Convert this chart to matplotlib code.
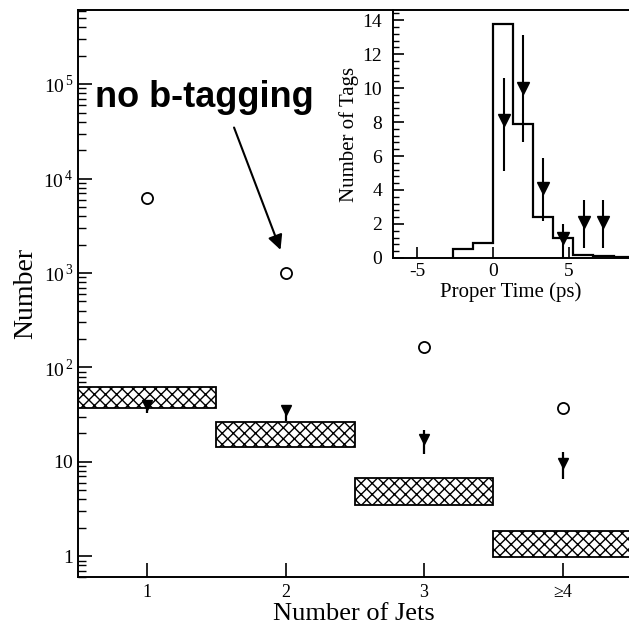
import numpy as np
import matplotlib
matplotlib.use('Agg')
import matplotlib.pyplot as plt
from matplotlib.ticker import FixedLocator, LogLocator, MultipleLocator, NullFormatter

plt.rcParams['font.family'] = ['Liberation Serif', 'DejaVu Serif']
plt.rcParams['mathtext.fontset'] = 'custom'
plt.rcParams['mathtext.rm'] = 'Liberation Serif'
plt.rcParams['axes.unicode_minus'] = False
plt.rcParams['hatch.linewidth'] = 1.0

# main panel: number of events vs number of jets
jets = [1, 2, 3, 4]
jet_labels = ['1', '2', '3', '≥4']
no_tag = [6300, 1000, 163, 37]
tagged = [40, 35, 17.4, 9.8]
tagged_lo = [33, 27, 12, 6.6]
tagged_hi = [44, 40, 21.5, 12.8]
bkg_lo = [37.4, 14.4, 3.5, 0.98]
bkg_hi = [62, 26.6, 6.8, 1.84]

# inset: proper time distribution
t_edges = [-2.65, -1.33, 0, 1.33, 2.65, 4.0, 5.3, 6.65, 8.0, 9.3]
t_counts = [0.5, 0.9, 13.8, 7.9, 2.4, 1.2, 0.2, 0.12, 0.05]
t_pts = [0.73, 2.0, 3.3, 4.65, 6.0, 7.3]
tags = [8.1, 10.0, 4.1, 1.2, 2.1, 2.1]
tags_lo = [5.1, 6.8, 2.2, 0.0, 0.6, 0.6]
tags_hi = [10.6, 13.1, 5.9, 2.0, 3.4, 3.4]

fig = plt.figure(figsize=(6.29, 6.26), dpi=100)
ax = fig.add_axes([0.124, 0.078, 0.876, 0.906])

# hatched background boxes
ax.bar(jets, np.array(bkg_hi) - np.array(bkg_lo), bottom=bkg_lo, width=1.0,
       color='white', edgecolor='black', hatch='xxx', linewidth=1.3, zorder=2)

ax.plot(jets, no_tag, 'o', mfc='white', mec='black', ms=8, mew=1.3, zorder=3)
yerr = [np.array(tagged) - np.array(tagged_lo), np.array(tagged_hi) - np.array(tagged)]
ax.errorbar(jets, tagged, yerr=yerr, fmt='v', color='black', ms=7.5,
            elinewidth=1.6, capsize=0, zorder=4)

ax.set_yscale('log')
ax.set_ylim(0.6, 6.1e5)
ax.set_xlim(0.5, 4.48)
ax.set_xticks(jets)
ax.set_xticklabels(jet_labels, fontsize=13)
ytick_vals = [1, 10, 1e2, 1e3, 1e4, 1e5]
ytick_labels = [r'$\mathrm{1}\ \,$', r'$\mathrm{10}\ \,$',
                r'$\mathrm{10}^{\,2}$', r'$\mathrm{10}^{\,3}$',
                r'$\mathrm{10}^{\,4}$', r'$\mathrm{10}^{\,5}$']
ax.yaxis.set_major_locator(FixedLocator(ytick_vals))
ax.set_yticklabels(ytick_labels, fontsize=14)
ax.yaxis.set_minor_locator(LogLocator(base=10, subs=np.arange(2, 10), numticks=20))
ax.yaxis.set_minor_formatter(NullFormatter())
ax.tick_params(which='major', direction='in', length=10, width=1.2, pad=3)
ax.tick_params(which='minor', direction='in', length=6, width=1.0)
ax.tick_params(axis='x', pad=5)
ax.spines['right'].set_visible(False)
for s in ['left', 'bottom', 'top']:
    ax.spines[s].set_linewidth(1.4)
ax.set_xlabel('Number of Jets', fontsize=19, labelpad=1)
ax.set_ylabel('Number', fontsize=20, labelpad=4)

# annotation
ax.text(0.62, 7.3e4, 'no b-tagging', fontsize=26, fontweight='bold',
        family='Liberation Sans', va='center', ha='left')
ax.annotate('', xy=(1.97, 1650), xytext=(1.62, 3.7e4),
            arrowprops=dict(arrowstyle='-|>', color='black', lw=1.5,
                            mutation_scale=22))

# inset
ins = fig.add_axes([0.625, 0.588, 0.375, 0.396])
ins.patch.set_alpha(0)
ins.stairs(t_counts, t_edges, color='black', lw=1.6, baseline=0)
terr = [np.array(tags) - np.array(tags_lo), np.array(tags_hi) - np.array(tags)]
ins.errorbar(t_pts, tags, yerr=terr, fmt='v', color='black', ms=8,
             elinewidth=1.5, capsize=0)
ins.set_xlim(-6.6, 9.0)
ins.set_ylim(0, 14.6)
ins.set_xticks([-5, 0, 5])
ins.yaxis.set_major_locator(MultipleLocator(2))
ins.yaxis.set_minor_locator(MultipleLocator(0.4))
ins.tick_params(labelsize=14)
ins.tick_params(which='major', direction='in', length=8, width=1.2)
ins.tick_params(which='minor', direction='in', length=4, width=1.0)
ins.tick_params(axis='y', pad=8)
ins.tick_params(axis='x', pad=4)
ins.spines['right'].set_visible(False)
ins.spines['top'].set_visible(False)
for s in ['left', 'bottom']:
    ins.spines[s].set_linewidth(1.4)
ins.set_xlabel('Proper Time (ps)', fontsize=15, labelpad=1)
ins.set_ylabel('Number of Tags', fontsize=15, labelpad=2)

fig.savefig('out.png', dpi=100)
